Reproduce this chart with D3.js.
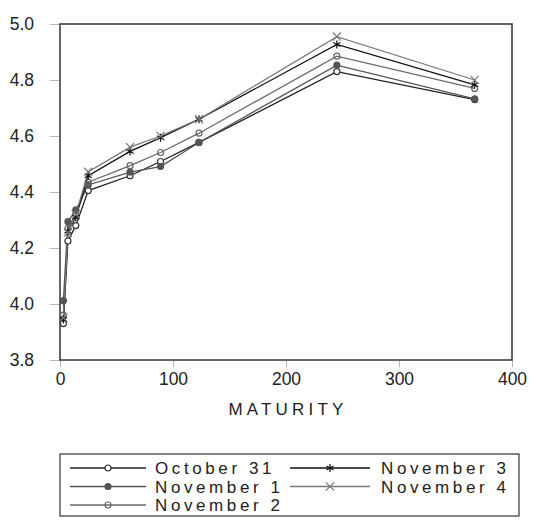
<!DOCTYPE html>
<html>
<head>
<meta charset="utf-8">
<script src="https://cdn.jsdelivr.net/npm/d3@7"></script>
<style>
  html, body { margin: 0; padding: 0; background: #fff; }
  svg { display: block; font-family: "Liberation Sans", Arial, sans-serif; }
</style>
</head>
<body>
<svg id="chart" width="534" height="526"></svg>
<script>
// Yield curves: interest rate by maturity (days) for five trading days
const maturity = [3, 7, 14, 25, 62, 89, 123, 245, 367];
const october31 = [3.930, 4.225, 4.280, 4.405, 4.458, 4.509, 4.577, 4.830, 4.730];
const november1 = [4.012, 4.294, 4.336, 4.425, 4.471, 4.491, 4.577, 4.853, 4.733];
const november2 = [3.960, 4.270, 4.320, 4.435, 4.494, 4.541, 4.610, 4.885, 4.770];
const november3 = [3.945, 4.260, 4.310, 4.458, 4.545, 4.594, 4.660, 4.927, 4.783];
const november4 = [3.950, 4.255, 4.320, 4.472, 4.560, 4.600, 4.660, 4.955, 4.800];

const seriesNames = ["October 31", "November 1", "November 2", "November 3", "November 4"];
const xTicks = [0, 100, 200, 300, 400];
const yTicks = [3.8, 4.0, 4.2, 4.4, 4.6, 4.8, 5.0];
const xTitle = "MATURITY";

const styles = {
  "October 31": { stroke: "#222", marker: "circle", fill: "#fff", mstroke: "#333" },
  "November 1": { stroke: "#555", marker: "circle", fill: "#555", mstroke: "#555" },
  "November 2": { stroke: "#6a6a6a", marker: "circle", fill: "none", mstroke: "#666" },
  "November 3": { stroke: "#111", marker: "asterisk", fill: "none", mstroke: "#111" },
  "November 4": { stroke: "#7a7a7a", marker: "times", fill: "none", mstroke: "#777" }
};

const valuesByName = {
  "October 31": october31,
  "November 1": november1,
  "November 2": november2,
  "November 3": november3,
  "November 4": november4
};

const series = seriesNames.map(name => ({
  name,
  points: maturity.map((m, i) => ({ x: m, y: valuesByName[name][i] }))
}));

const svg = d3.select("#chart");
const plot = { left: 60, top: 24, right: 512, bottom: 360 };

const x = d3.scaleLinear().domain([0, 400]).range([plot.left, plot.right]);
const y = d3.scaleLinear().domain([3.8, 5.0]).range([plot.bottom, plot.top]);

// Axes: light ticks outside the frame, dark labels
const yAxis = svg.append("g")
  .attr("transform", `translate(${plot.left},0)`)
  .call(d3.axisLeft(y).tickValues(yTicks).tickFormat(d3.format(".1f")).tickSize(10).tickPadding(16));
const xAxis = svg.append("g")
  .attr("transform", `translate(0,${plot.bottom})`)
  .call(d3.axisBottom(x).tickValues(xTicks).tickFormat(d3.format("d")).tickSize(7).tickPadding(6));

[yAxis, xAxis].forEach(g => {
  g.select(".domain").remove();
  g.selectAll(".tick line").attr("stroke", "#b5b5b5").attr("stroke-width", 1);
  g.selectAll(".tick text")
    .attr("fill", "#222")
    .style("font-size", "17.5px")
    .style("font-family", "'Liberation Sans', Arial, sans-serif");
});

// Plot frame
svg.append("rect")
  .attr("x", plot.left).attr("y", plot.top)
  .attr("width", plot.right - plot.left).attr("height", plot.bottom - plot.top)
  .attr("fill", "none").attr("stroke", "#333").attr("stroke-width", 1.5);

// Axis title
svg.append("text")
  .attr("x", (plot.left + plot.right) / 2 + 2)
  .attr("y", 415)
  .attr("text-anchor", "middle")
  .attr("fill", "#222")
  .style("font-size", "17px")
  .style("letter-spacing", "4.2px")
  .text(xTitle);

function drawMarker(g, st, cx, cy) {
  if (st.marker === "circle") {
    g.append("circle").attr("cx", cx).attr("cy", cy).attr("r", 3)
      .attr("fill", st.fill).attr("stroke", st.mstroke).attr("stroke-width", 1.2);
  } else {
    const type = st.marker === "asterisk" ? d3.symbolAsterisk : d3.symbolTimes;
    g.append("path")
      .attr("d", d3.symbol(type, 45)())
      .attr("transform", `translate(${cx},${cy})`)
      .attr("fill", "none").attr("stroke", st.mstroke).attr("stroke-width", 1.2);
  }
}

const line = d3.line().x(d => x(d.x)).y(d => y(d.y));

const layer = svg.append("g");
series.forEach(s => {
  const st = styles[s.name];
  layer.append("path")
    .datum(s.points)
    .attr("d", line)
    .attr("fill", "none")
    .attr("stroke", st.stroke)
    .attr("stroke-width", 1.3);
});
series.forEach(s => {
  const st = styles[s.name];
  const g = layer.append("g");
  s.points.forEach(p => drawMarker(g, st, x(p.x), y(p.y)));
});

// Legend
const legend = { left: 60, top: 454, right: 519, bottom: 516 };
svg.append("rect")
  .attr("x", legend.left).attr("y", legend.top)
  .attr("width", legend.right - legend.left).attr("height", legend.bottom - legend.top)
  .attr("fill", "#fff").attr("stroke", "#333").attr("stroke-width", 1.2);

const cols = [{ x0: 70, x1: 146, tx: 155 }, { x0: 290, x1: 370, tx: 381 }];
const rowY = [468, 486.5, 505];
const legendSlots = [[0, 0], [0, 1], [0, 2], [1, 0], [1, 1]];

seriesNames.forEach((name, i) => {
  const [c, r] = legendSlots[i];
  const col = cols[c];
  const ly = rowY[r];
  const st = styles[name];
  const g = svg.append("g");
  g.append("line")
    .attr("x1", col.x0).attr("x2", col.x1).attr("y1", ly).attr("y2", ly)
    .attr("stroke", st.stroke).attr("stroke-width", 1.3);
  drawMarker(g, st, (col.x0 + col.x1) / 2, ly);
  g.append("text")
    .attr("x", col.tx).attr("y", ly)
    .attr("dy", "0.36em")
    .attr("fill", "#222")
    .style("font-size", "17px")
    .style("letter-spacing", "3.6px")
    .text(name);
});
</script>
</body>
</html>
